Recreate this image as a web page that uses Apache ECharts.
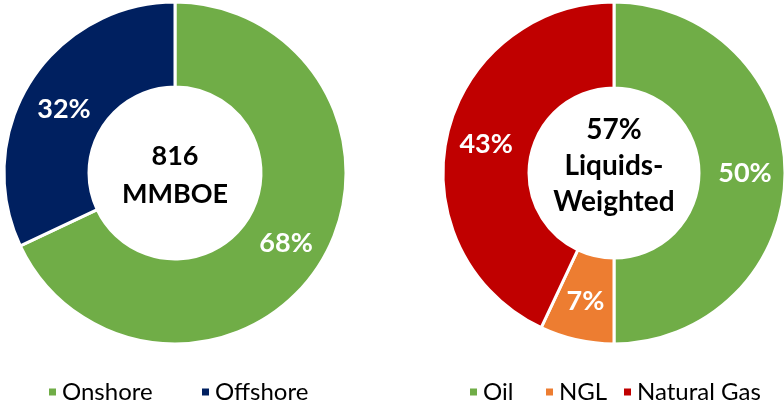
<!DOCTYPE html>
<html><head><meta charset="utf-8">
<script src="https://cdn.jsdelivr.net/npm/echarts@6/dist/echarts.min.js"></script>
<style>html,body{margin:0;padding:0;background:#fff}#c{width:784px;height:401px}</style>
</head><body><div id="c"></div>
<script>
const locNames = ['Onshore', 'Offshore'];
const locValues = [68, 32];
const locColors = ['#70AD47', '#002060'];
const prodNames = ['Oil', 'NGL', 'Natural Gas'];
const prodValues = [50, 7, 43];
const prodColors = ['#70AD47', '#ED7D31', '#C00000'];
const leftCenter = ['816', 'MMBOE'];
const rightCenter = ['57%', 'Liquids-', 'Weighted'];

const FONT = 'Lato, "Open Sans", sans-serif';
const chart = echarts.init(document.getElementById('c'));
function mk(names, vals, colors) {
  return names.map((n, i) => ({ name: n, value: vals[i], itemStyle: { color: colors[i] } }));
}
const lbl = {
  show: true, position: 'inside', formatter: '{c}%', color: '#fff',
  fontFamily: FONT, fontWeight: 'bold', fontSize: 27
};
const legendX = { 'Onshore': 42, 'Offshore': 195, 'Oil': 463, 'NGL': 539, 'Natural Gas': 617 };
const legends = Object.keys(legendX).map(n => ({
  data: [n], left: legendX[n], top: 375, icon: 'rect', itemWidth: 9, itemHeight: 9,
  selectedMode: false,
  textStyle: { fontFamily: FONT, fontSize: 24, lineHeight: 24, color: '#000' }
}));
const locData = mk(locNames, locValues, locColors);
locData[1].label = { offset: [0, 7] };
chart.setOption({
  animation: false,
  legend: legends,
  graphic: [].concat(
    leftCenter.map((t, i) => ({ type: 'text', x: 175, y: 156 + i * 38,
      style: { text: t, textAlign: 'center', textVerticalAlign: 'middle', font: 'bold 27px ' + FONT, fill: '#000' } })),
    rightCenter.map((t, i) => ({ type: 'text', x: 614, y: 130 + i * 36,
      style: { text: t, textAlign: 'center', textVerticalAlign: 'middle', font: 'bold 28px ' + FONT, fill: '#000' } }))
  ),
  series: [
    { type: 'pie', center: [175, 173], radius: [86, 171], startAngle: 90, clockwise: true,
      label: lbl, labelLine: { show: false }, itemStyle: { borderColor: '#fff', borderWidth: 3 },
      emphasis: { disabled: true }, data: locData },
    { type: 'pie', center: [614, 173], radius: [85, 171], startAngle: 90, clockwise: true,
      label: lbl, labelLine: { show: false }, itemStyle: { borderColor: '#fff', borderWidth: 3 },
      emphasis: { disabled: true }, data: mk(prodNames, prodValues, prodColors) }
  ]
});
</script></body></html>
